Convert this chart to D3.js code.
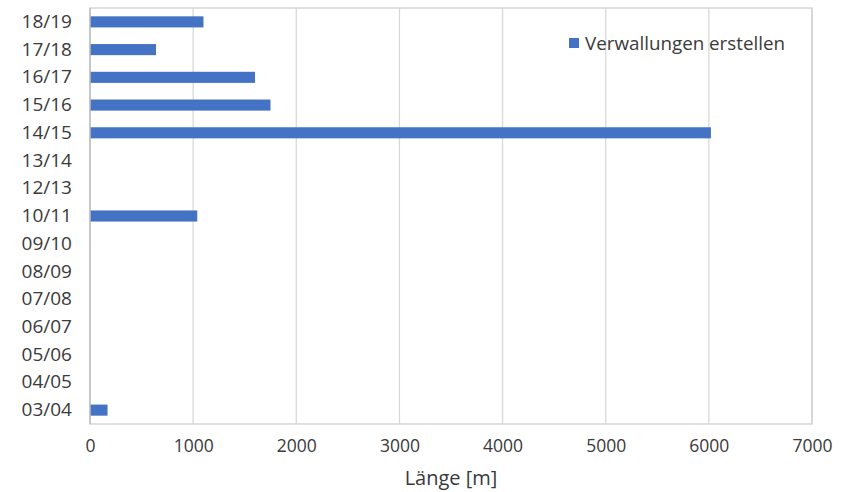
<!DOCTYPE html>
<html>
<head>
<meta charset="utf-8">
<script src="https://cdn.jsdelivr.net/npm/d3@7/dist/d3.min.js"></script>
<style>
  html, body { margin: 0; padding: 0; background: #fff; }
  svg { display: block; }
  text { font-family: "Open Sans", "Noto Sans", sans-serif; fill: #3a3a3a; }
</style>
</head>
<body>
<svg id="chart" width="842" height="492"></svg>
<script>
// Seasons, top to bottom as shown on the axis
const seasons = ["18/19", "17/18", "16/17", "15/16", "14/15", "13/14", "12/13",
                 "10/11", "09/10", "08/09", "07/08", "06/07", "05/06", "04/05", "03/04"];
// Length of embankments built per season [m]
const lengths = [1100, 640, 1600, 1750, 6020, 0, 0,
                 1040, 0, 0, 0, 0, 0, 0, 170];
const xTicks = [0, 1000, 2000, 3000, 4000, 5000, 6000, 7000];
const seriesName = "Verwallungen erstellen";
const xTitle = "Länge [m]";

const data = seasons.map((s, i) => ({ season: s, value: lengths[i] }));

const svg = d3.select("#chart");
const m = { left: 90, right: 30, top: 8, bottom: 68 };
const W = 842, H = 492;
const iw = W - m.left - m.right, ih = H - m.top - m.bottom;

const x = d3.scaleLinear().domain([0, 7000]).range([0, iw]);
const y = d3.scaleBand().domain(seasons).range([0, ih]).paddingInner(0.6).paddingOuter(0.3);

const g = svg.append("g").attr("transform", `translate(${m.left},${m.top})`);

// vertical gridlines
g.append("g").selectAll("line").data(xTicks.slice(1)).join("line")
  .attr("x1", d => x(d)).attr("x2", d => x(d))
  .attr("y1", 0).attr("y2", ih)
  .attr("stroke", "#d9d9d9").attr("stroke-width", 1.3);

// plot frame
g.append("rect").attr("x", 0).attr("y", 0).attr("width", iw).attr("height", ih)
  .attr("fill", "none").attr("stroke", "#d0d0d0").attr("stroke-width", 1.3);

// bars
g.append("g").selectAll("rect").data(data.filter(d => d.value > 0)).join("rect")
  .attr("x", x(0))
  .attr("y", d => y(d.season))
  .attr("width", d => x(d.value) - x(0))
  .attr("height", y.bandwidth())
  .attr("fill", "#4472c4");

// category axis line
g.append("line").attr("x1", 0).attr("x2", 0).attr("y1", 0).attr("y2", ih)
  .attr("stroke", "#bfbfbf").attr("stroke-width", 1.5);

// y labels
const yAxis = d3.axisLeft(y).tickSize(0).tickPadding(18);
g.append("g").call(yAxis)
  .call(a => a.select(".domain").remove())
  .selectAll("text").style("font-size", "19px").attr("fill", "#3a3a3a");

// x labels
const xAxis = d3.axisBottom(x).tickValues(xTicks).tickSize(0).tickPadding(16).tickFormat(d3.format("d"));
g.append("g").attr("transform", `translate(0,${ih})`).call(xAxis)
  .call(a => a.select(".domain").remove())
  .selectAll("text").style("font-size", "17.5px").attr("fill", "#3a3a3a");

// x title
svg.append("text").attr("x", m.left + iw / 2).attr("y", 485)
  .attr("text-anchor", "middle").style("font-size", "20px").text(xTitle);

// legend
const lg = svg.append("g").attr("transform", "translate(569,38)");
lg.append("rect").attr("width", 10).attr("height", 10).attr("fill", "#4472c4");
lg.append("text").attr("x", 16).attr("y", 11.5).style("font-size", "18.8px").text(seriesName);
</script>
</body>
</html>
